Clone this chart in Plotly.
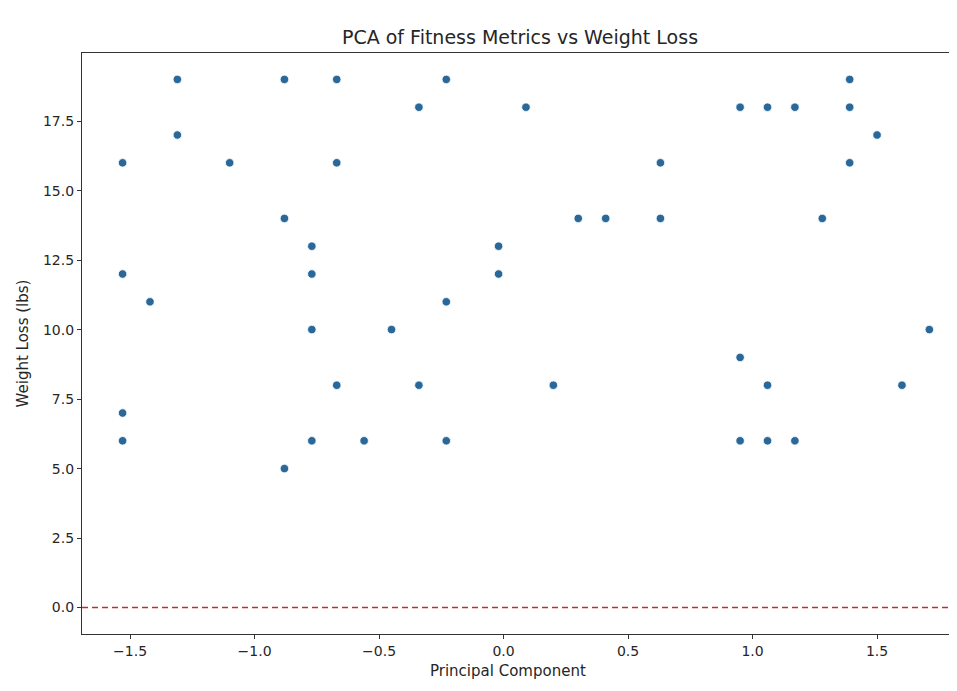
import plotly.graph_objects as go

# Data
pc_values = [
    -1.53, -1.53, -1.53, -1.53,
    -1.42,
    -1.31, -1.31,
    -1.10,
    -0.88, -0.88, -0.88,
    -0.77, -0.77, -0.77, -0.77,
    -0.67, -0.67, -0.67,
    -0.56,
    -0.45,
    -0.34, -0.34,
    -0.23, -0.23, -0.23,
    -0.02, -0.02,
    0.09,
    0.20,
    0.30,
    0.41,
    0.63, 0.63,
    0.95, 0.95, 0.95,
    1.06, 1.06, 1.06,
    1.17, 1.17,
    1.28,
    1.39, 1.39, 1.39,
    1.50,
    1.60,
    1.71,
]
weight_loss = [
    16, 12, 7, 6,
    11,
    19, 17,
    16,
    19, 14, 5,
    13, 12, 10, 6,
    19, 16, 8,
    6,
    10,
    18, 8,
    19, 11, 6,
    13, 12,
    18,
    8,
    14,
    14,
    16, 14,
    18, 9, 6,
    18, 8, 6,
    18, 6,
    14,
    19, 18, 16,
    17,
    8,
    10,
]
x_ticks = [-1.5, -1.0, -0.5, 0.0, 0.5, 1.0, 1.5]
y_ticks = [0.0, 2.5, 5.0, 7.5, 10.0, 12.5, 15.0, 17.5]
reference_line = [0, 0]
x_limits = [-1.693, 1.821]
y_limits = [-0.95, 19.95]

FONT = "DejaVu Sans"
TXT = "#262626"

fig = go.Figure()
fig.add_trace(go.Scatter(
    x=x_limits, y=reference_line, mode="lines",
    line=dict(color="#c62a2a", width=1.5, dash="6px,4px"),
    hoverinfo="skip", showlegend=False,
))
fig.add_trace(go.Scatter(
    x=pc_values, y=weight_loss, mode="markers",
    marker=dict(color="#2a689a", size=8.5, line=dict(color="white", width=0.8)),
    showlegend=False,
))

fig.update_layout(
    width=949, height=675,
    margin=dict(l=74, r=0, t=45, b=49),
    paper_bgcolor="white", plot_bgcolor="white",
    font=dict(family=FONT, size=14, color=TXT),
    title=dict(text="PCA of Fitness Metrics vs Weight Loss", x=512/949, xanchor="center",
               y=1 - 29/675, yanchor="middle", font=dict(family=FONT, size=19, color=TXT)),
    xaxis=dict(
        range=x_limits, tickvals=x_ticks, ticktext=[f"{v:.1f}".replace("-", "\u2212") for v in x_ticks],
        showgrid=False, zeroline=False, showline=True, linecolor="#333333", linewidth=1.2,
        mirror=True, ticks="outside", ticklen=4, tickcolor="#333333", automargin=False,
        tickfont=dict(family=FONT, size=14, color=TXT),
    ),
    yaxis=dict(
        range=y_limits, tickvals=y_ticks, ticktext=[f"{v:.1f}" for v in y_ticks],
        showgrid=False, zeroline=False, showline=True, linecolor="#333333", linewidth=1.2,
        ticks="outside", ticklen=4, tickcolor="#333333", automargin=False,
        tickfont=dict(family=FONT, size=14, color=TXT),
        title=dict(text="Weight Loss (lbs)", font=dict(family=FONT, size=15, color=TXT), standoff=10),
    ),
    annotations=[dict(
        text="Principal Component", xref="paper", yref="paper",
        x=(508 - 82) / 875, y=(626 - 663) / 581, xanchor="center", yanchor="middle",
        showarrow=False, font=dict(family=FONT, size=15, color=TXT),
    )],
)

fig.write_html("out.html", post_script="document.body.style.overflow='hidden';")
